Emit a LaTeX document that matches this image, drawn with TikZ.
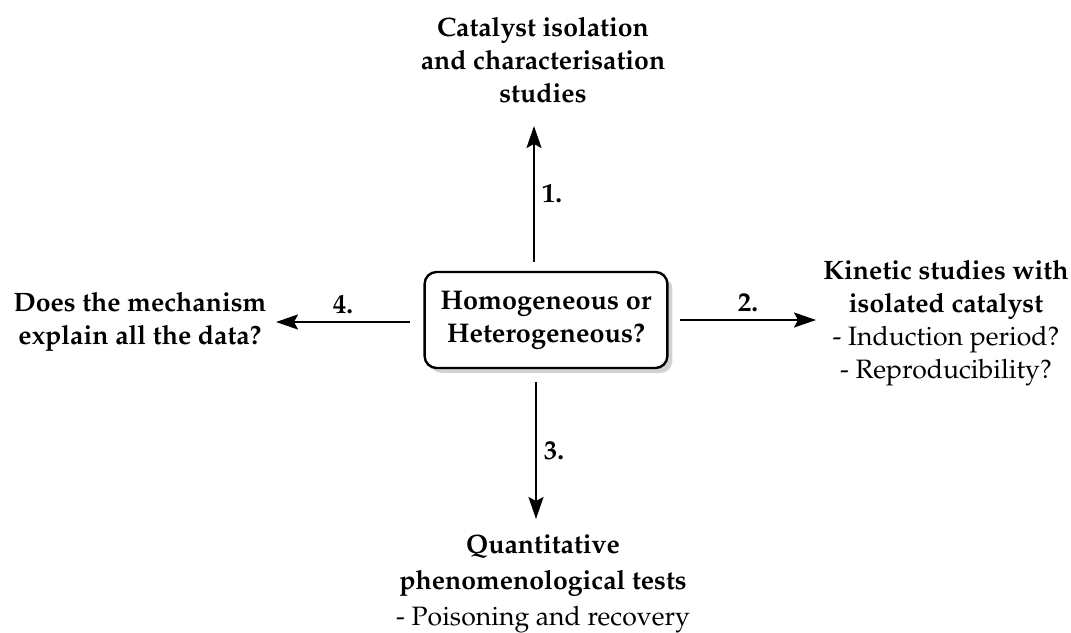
\documentclass[tikz,border=0pt]{standalone}
\usepackage[T1]{fontenc}
\usepackage{mathpazo}
\usepackage{tikz}
\usetikzlibrary{positioning,arrows.meta,shadows}

\begin{document}
\begin{tikzpicture} [x=0.5pt, y=-0.5pt, thick, line width=1.1pt,
                    every node/.style={font=\fontsize{13.3}{16.5}\selectfont, align=center},
                    vraag/.style={draw, rounded corners=6pt, fill=white, line width=1.2pt,
                                  inner xsep=8pt, inner ysep=9.5pt, font=\fontsize{13.5}{16.5}\selectfont\bfseries,
                                  drop shadow={shadow xshift=2.5pt, shadow yshift=-2.5pt, fill=black!35}},
                    pijl/.style={-{Stealth[length=11pt, width=7.5pt, inset=2pt]}},
                    nummer/.style={font=\fontsize{13.5}{16.5}\selectfont\bfseries}]

\useasboundingbox (0,0) rectangle (1071,632);

\node[vraag] (HH) at (546,320) {Homogeneous or\\Heterogeneous?};

\node (CI) at (543,60) {\textbf{Catalyst isolation}\\\textbf{and characterisation}\\\textbf{studies}};
\node (KS) at (946,323) {\textbf{Kinetic studies with}\\\textbf{isolated catalyst}\\- Induction period?\\- Reproducibility?};
\node[font=\fontsize{13.3}{18}\selectfont] (QT) at (543,584) {\textbf{Quantitative}\\\textbf{phenomenological tests}\\- Poisoning and recovery};
\node (DM) at (140,322) {\textbf{Does the mechanism}\\\textbf{explain all the data?}};

\coordinate (N1) at (534,262);
\coordinate (N2) at (534,126);
\coordinate (O1) at (680,320);
\coordinate (O2) at (816,320);
\coordinate (Z1) at (536,382);
\coordinate (Z2) at (536,519);
\coordinate (W1) at (410,322);
\coordinate (W2) at (276,322);

 \path[pijl]
    (N1) edge node[nummer, right] {1.} (N2)
    (O1) edge node[nummer, above] {2.} (O2)
    (Z1) edge node[nummer, right] {3.} (Z2)
    (W1) edge node[nummer, above] {4.} (W2);
\end{tikzpicture}
\end{document}
